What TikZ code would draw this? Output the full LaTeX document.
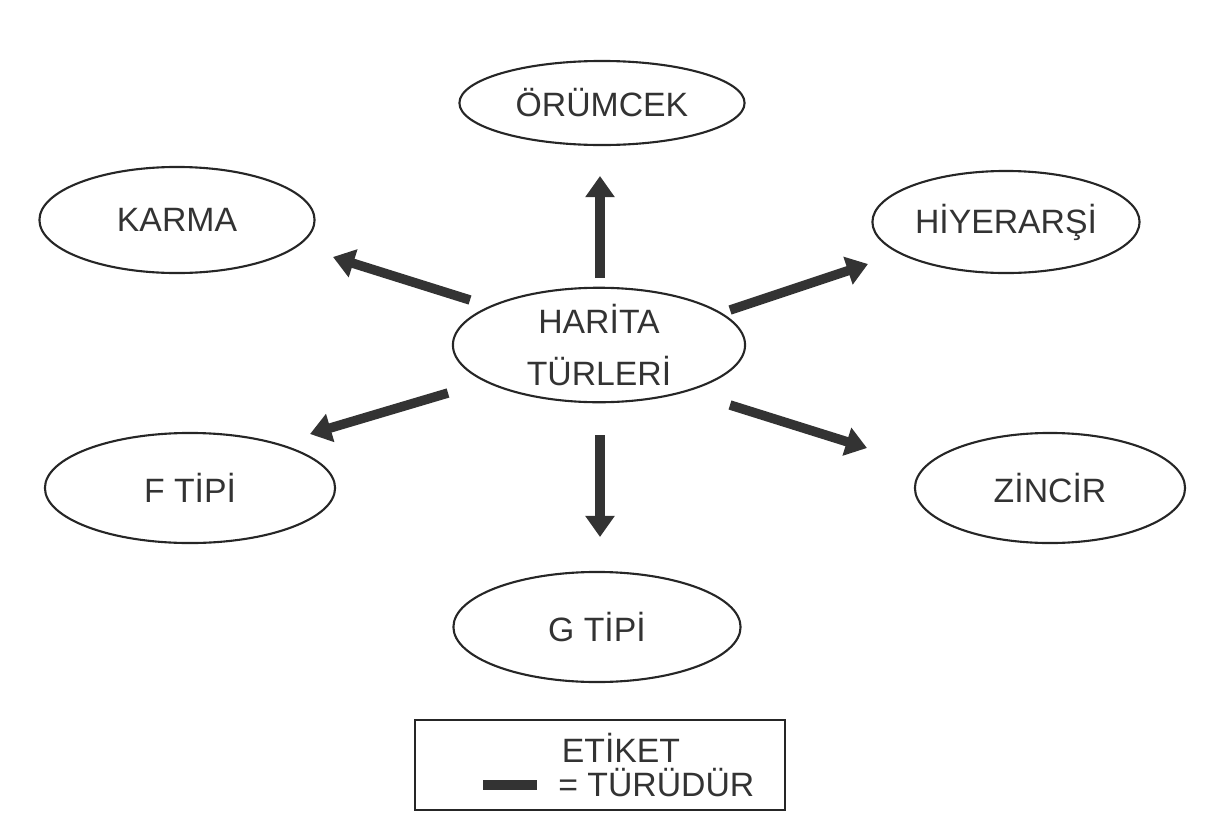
\documentclass[tikz,border=0pt]{standalone}
\usepackage{fontspec}
\setmainfont{Liberation Sans}
\usetikzlibrary{shapes.geometric,arrows.meta}
\begin{document}
\begin{tikzpicture}[x=0.01cm,y=-0.01cm,
  lbl/.style={font=\fontsize{9.6}{12}\selectfont,text=black!80},
  oval/.style={lbl,draw=black!85,line width=0.6pt,ellipse,inner sep=0pt,align=center},
  kind/.style={draw=black!80,line width=2.7pt,
    -{Triangle[length=6pt,width=8pt]}}]
\useasboundingbox (0,0) rectangle (1223,827);
% concept ovals
\node[oval,minimum width=2.85cm,minimum height=0.84cm] (orum) at (602,103) {ÖRÜMCEK};
\node[oval,minimum width=2.75cm,minimum height=1.06cm] (karma) at (177,220) {KARMA};
\node[oval,minimum width=2.67cm,minimum height=1.02cm] (hiy) at (1006,222) {HİYERARŞİ};
\node[oval,minimum width=2.92cm,minimum height=1.04cm] (harita) at (599,345) {HARİTA\\[2.6pt]TÜRLERİ};
\node[oval,minimum width=2.90cm,minimum height=1.10cm] (ftip) at (190,488) {F TİPİ};
\node[oval,minimum width=2.70cm,minimum height=1.10cm] (zin) at (1050,488) {ZİNCİR};
\node[oval,minimum width=2.87cm,minimum height=1.10cm] (gtip) at (597,627) {G TİPİ};
% "is a type of" links
\coordinate (hU) at (600,278); \coordinate (hD) at (600,435);
\coordinate (hUL) at (470,300); \coordinate (hUR) at (730,310);
\coordinate (hDL) at (448,393); \coordinate (hDR) at (730,405);
\coordinate (tU) at (600,176); \coordinate (tD) at (600,537);
\coordinate (tUL) at (333,257); \coordinate (tUR) at (868,264);
\coordinate (tDL) at (310,434); \coordinate (tDR) at (867,448);
\draw[kind] (hU) -- (tU);
\draw[kind] (hD) -- (tD);
\draw[kind] (hUL) -- (tUL);
\draw[kind] (hUR) -- (tUR);
\draw[kind] (hDL) -- (tDL);
\draw[kind] (hDR) -- (tDR);
% legend
\node[draw=black!85,line width=0.6pt,minimum width=3.70cm,minimum height=0.90cm,inner sep=0pt] (legend) at (600,765) {};
\node[lbl] (etiket) at (621,748) {ETİKET};
\node[lbl,anchor=west] (turu) at (546,783) {= TÜRÜDÜR};
\coordinate (barA) at (483,785); \coordinate (barB) at (537,785);
\draw[draw=black!80,line width=2.7pt] (barA) -- (barB);
\end{tikzpicture}
\end{document}
